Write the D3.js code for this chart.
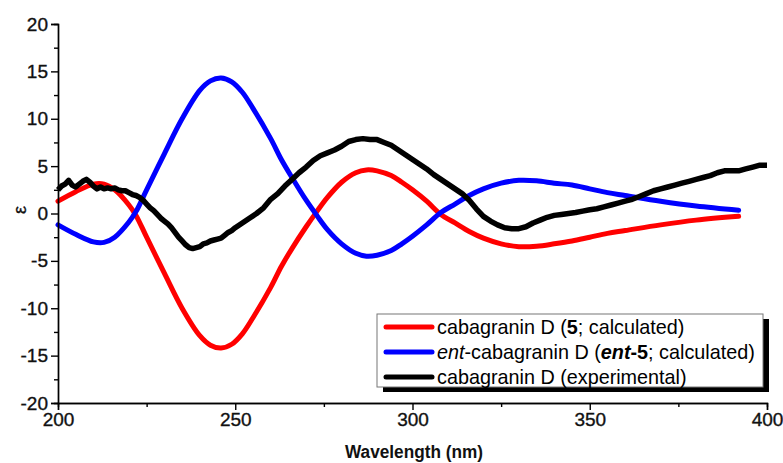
<!DOCTYPE html>
<html><head><meta charset="utf-8">
<script src="https://cdn.jsdelivr.net/npm/d3@7"></script>
<style>
html,body{margin:0;padding:0;background:#fff;}
svg{display:block;}
text{font-family:"Liberation Sans",Arial,sans-serif;}
</style></head>
<body>
<svg id="chart" width="783" height="463"></svg>
<script>
// ---- data ----
const xTicks = [200, 250, 300, 350, 400];
const yTicks = [-20, -15, -10, -5, 0, 5, 10, 15, 20];

const calcWl = [200,205,210,213,216,220,222,225,230,235,240,243,246,249,252,255,260,263,266,270,273,276,280,284,287,290,294,297,300,304,308,312,316,320,325,330,335,340,345,350,355,360,370,380,392];
const calcRed = [1.3,2.3,3.1,3.1,2.5,0.9,-0.2,-2.5,-6.3,-10.0,-12.9,-13.9,-14.2,-13.8,-12.7,-11.0,-7.8,-5.6,-3.7,-1.4,0.2,1.7,3.3,4.3,4.6,4.5,4.0,3.3,2.5,1.3,-0.1,-1.0,-1.9,-2.6,-3.2,-3.5,-3.45,-3.2,-2.9,-2.5,-2.1,-1.8,-1.2,-0.7,-0.3];
const calcBlue = [-1.2,-2.2,-3.0,-3.05,-2.5,-0.9,0.2,2.5,6.3,10.0,13.0,14.0,14.3,13.9,12.8,11.1,7.9,5.7,3.8,1.4,-0.2,-1.7,-3.2,-4.2,-4.5,-4.4,-3.9,-3.2,-2.4,-1.2,0.1,1.0,1.9,2.6,3.2,3.5,3.45,3.2,3.0,2.6,2.2,1.9,1.3,0.8,0.35];

const expWl = [200,201,202,203,204,205,206,207,208,209,210,211,212,213,214,215,216,217,218,219,220,221,222,223,224,225,226,227,228,229,230,231,232,233,234,235,236,237,238,239,240,241,242,243,244,245,246,247,248,249,250,252,254,256,258,260,262,264,266,268,270,272,274,276,278,280,282,284,286,288,290,292,294,296,298,300,302,304,306,308,310,312,314,316,318,320,322,324,326,328,330,332,334,336,338,340,342,344,346,348,350,352,354,356,358,360,362,364,366,368,370,372,374,376,378,380,382,384,386,388,390,392,394,396,398,400];
const expVal = [2.5,2.9,3.1,3.5,3.0,2.8,3.1,3.4,3.6,3.3,2.9,2.6,2.8,2.6,2.7,2.6,2.7,2.5,2.4,2.4,2.2,2.0,1.9,1.7,1.4,1.0,0.6,0.3,-0.1,-0.5,-0.8,-1.1,-1.5,-2.0,-2.5,-2.9,-3.3,-3.6,-3.7,-3.6,-3.5,-3.2,-3.1,-2.9,-2.8,-2.7,-2.6,-2.3,-2.0,-1.8,-1.5,-1.0,-0.5,0.0,0.6,1.5,2.1,2.9,3.6,4.3,4.9,5.6,6.1,6.4,6.7,7.1,7.6,7.8,7.9,7.8,7.8,7.5,7.2,6.7,6.2,5.7,5.2,4.7,4.1,3.6,3.1,2.6,2.1,1.4,0.5,-0.3,-0.8,-1.2,-1.5,-1.6,-1.6,-1.4,-1.0,-0.7,-0.4,-0.2,-0.1,0.0,0.1,0.25,0.4,0.5,0.7,0.9,1.1,1.3,1.5,1.8,2.1,2.4,2.6,2.8,3.0,3.2,3.4,3.6,3.8,4.0,4.3,4.5,4.5,4.5,4.7,4.9,5.1,5.1];

const seriesColors = ["#ff0000", "#0000ff", "#000000"];

// ---- layout ----
const svg = d3.select("#chart");
const x = d3.scaleLinear().domain([200, 400]).range([58, 767]);
const y = d3.scaleLinear().domain([-20, 20]).range([403, 24]);

const line = d3.line().x(d => x(d[0])).y(d => y(d[1]));
const redData = calcWl.map((w, i) => [w, calcRed[i]]);
const blueData = calcWl.map((w, i) => [w, calcBlue[i]]);
const expData = expWl.map((w, i) => [w, expVal[i]]);

const g = svg.append("g");
g.append("path").datum(redData).attr("d", line.curve(d3.curveCatmullRom.alpha(0.5)))
  .attr("fill", "none").attr("stroke", seriesColors[0]).attr("stroke-width", 5).attr("stroke-linecap", "round");
g.append("path").datum(blueData).attr("d", line.curve(d3.curveCatmullRom.alpha(0.5)))
  .attr("fill", "none").attr("stroke", seriesColors[1]).attr("stroke-width", 5).attr("stroke-linecap", "round");
g.append("path").datum(expData).attr("d", line.curve(d3.curveLinear))
  .attr("fill", "none").attr("stroke", seriesColors[2]).attr("stroke-width", 5.5).attr("stroke-linejoin", "round");

// axes
const xMinor = d3.range(200, 401, 25).filter(v => v % 50 !== 0);
const yMinor = d3.range(-20, 20.1, 2.5).filter(v => v % 5 !== 0);
const fmt = d => String(d);

const xAxis = svg.append("g").attr("transform", "translate(0,403)");
xAxis.call(d3.axisBottom(x).tickValues(xTicks).tickSize(7).tickPadding(3).tickFormat(fmt));
xAxis.append("g").call(d3.axisBottom(x).tickValues(xMinor).tickSize(4).tickFormat(""));

const yAxis = svg.append("g").attr("transform", "translate(58,0)");
yAxis.call(d3.axisLeft(y).tickValues(yTicks).tickSize(7).tickPadding(3).tickFormat(fmt));
yAxis.append("g").call(d3.axisLeft(y).tickValues(yMinor).tickSize(4).tickFormat(""));

[xAxis, yAxis].forEach(a => {
  a.selectAll(".domain").attr("stroke", "#000").attr("stroke-width", 1.4);
  a.selectAll(".tick line").attr("stroke", "#000").attr("stroke-width", 1.4);
  a.selectAll("text").attr("font-size", 19).attr("fill", "#111")
    .attr("font-family", '"Liberation Sans",Arial,sans-serif')
    .attr("stroke", "#111").attr("stroke-width", 0.35);
});

// axis titles
svg.append("text").attr("x", 414).attr("y", 458).attr("text-anchor", "middle")
  .attr("font-size", 17.5).attr("font-weight", "bold").attr("fill", "#111")
  .attr("textLength", 138).attr("lengthAdjust", "spacingAndGlyphs").text("Wavelength (nm)");
svg.append("text").attr("transform", "translate(26,210) rotate(-90)").attr("text-anchor", "middle")
  .attr("font-size", 18).attr("fill", "#111").attr("stroke", "#111").attr("stroke-width", 0.3).text("ε");

// legend
const lg = svg.append("g");
lg.append("rect").attr("x", 383).attr("y", 319).attr("width", 386).attr("height", 73).attr("fill", "#000");
lg.append("rect").attr("x", 377).attr("y", 314).attr("width", 386).attr("height", 73).attr("fill", "#fff").attr("stroke", "#777").attr("stroke-width", 1);
const rowsY = [327, 352, 377];
rowsY.forEach((ry, i) => {
  lg.append("line").attr("x1", 386).attr("x2", 432).attr("y1", ry).attr("y2", ry)
    .attr("stroke", seriesColors[i]).attr("stroke-width", 5).attr("stroke-linecap", "round");
});
function addText(ry, parts) {
  const t = lg.append("text").attr("x", 437).attr("y", ry + 7).attr("font-size", 19.8).attr("fill", "#000");
  parts.forEach(p => {
    const s = t.append("tspan").text(p.t);
    if (p.b) s.attr("font-weight", "bold");
    if (p.i) s.attr("font-style", "italic");
  });
}
addText(rowsY[0], [{t: "cabagranin D ("}, {t: "5", b: true}, {t: "; calculated)"}]);
addText(rowsY[1], [{t: "ent", i: true}, {t: "-cabagranin D ("}, {t: "ent", b: true, i: true}, {t: "-5", b: true}, {t: "; calculated)"}]);
addText(rowsY[2], [{t: "cabagranin D (experimental)"}]);
</script>
</body></html>
